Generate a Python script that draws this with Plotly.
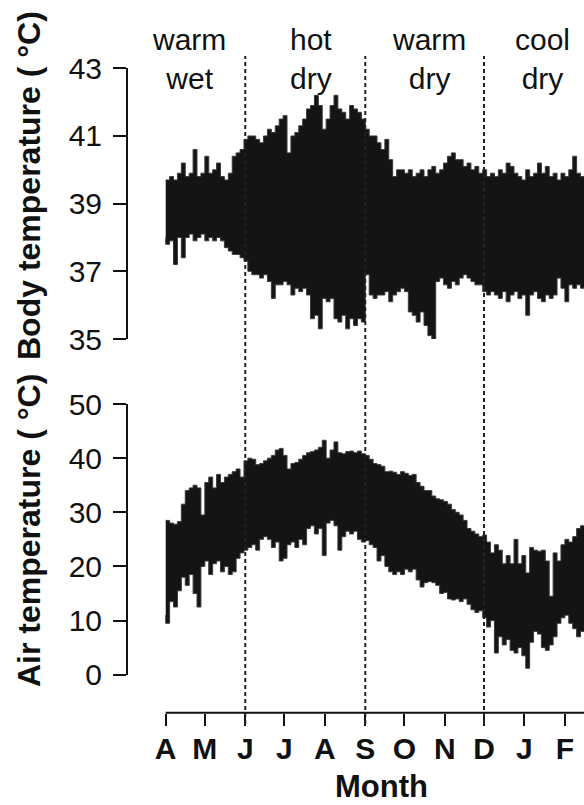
import plotly.graph_objects as go

W, H = 584, 805

# ---------------- data ----------------
# day offset from 1 April, sampled every 3 days
sample_day = list(range(0, 325, 3))

body_upper = [
    39.7, 39.8, 39.7, 39.9, 40.2, 39.8, 39.9, 40.6, 39.8, 39.9,
    40.4, 39.9, 40.0, 40.2, 39.8, 39.7, 39.9, 40.4, 40.5, 40.6,
    40.9, 41.0, 41.0, 40.9, 40.8, 41.0, 41.2, 41.1, 41.3, 41.5,
    41.6, 40.5, 41.0, 41.1, 41.3, 41.5, 41.8, 41.9, 42.2, 41.9,
    41.2, 41.5, 41.9, 42.2, 41.8, 41.7, 41.5, 41.9, 41.8, 41.7,
    41.5, 41.2, 41.0, 41.0, 40.8, 40.6, 40.9, 40.3, 39.8, 40.0,
    40.0, 39.9, 40.0, 39.8, 39.9, 40.0, 39.8, 40.0, 40.1, 39.9,
    40.0, 40.2, 40.4, 40.5, 40.3, 40.3, 40.1, 40.2, 40.0, 40.1,
    39.9, 40.0, 39.8, 39.9, 39.8, 40.0, 39.9, 40.2, 40.1, 39.9,
    39.8, 39.7, 40.0, 39.8, 39.9, 40.2, 39.9, 40.1, 39.8, 39.9,
    39.7, 39.9, 39.8, 40.0, 40.4, 39.9, 39.8, 39.9, 39.8,
]
body_lower = [
    38.0, 37.8, 37.9, 37.2, 38.0, 37.4, 38.0, 38.1, 37.9, 38.0,
    38.1, 37.9, 38.0, 37.9, 38.0, 37.9, 37.7, 37.6, 37.5, 37.5,
    37.4, 37.3, 37.0, 36.9, 36.9, 36.8, 36.9, 36.7, 36.2, 36.6,
    36.6, 36.7, 36.6, 36.3, 36.5, 36.4, 36.5, 36.3, 35.6, 35.7,
    35.3, 36.2, 36.1, 36.2, 35.6, 35.5, 35.7, 35.3, 35.6, 35.4,
    35.6, 35.5, 36.9, 36.3, 36.2, 36.3, 36.3, 36.4, 36.1, 36.3,
    36.4, 36.5, 36.4, 35.8, 35.7, 35.5, 35.8, 35.4, 35.1, 35.0,
    36.7, 36.8, 36.6, 36.5, 36.7, 36.6, 36.8, 36.9, 36.8, 36.7,
    36.6, 36.6, 36.4, 36.3, 36.4, 36.3, 36.2, 36.4, 36.1, 36.3,
    36.4, 36.2, 36.3, 35.7, 36.3, 36.4, 36.2, 36.1, 36.3, 36.2,
    36.3, 36.8, 36.5, 36.1, 36.6, 36.5, 36.6, 36.5, 36.5,
]
air_upper = [
    28.5, 28.0, 27.8, 28.3, 31.5, 34.0, 34.5, 35.0, 34.5, 29.5,
    35.5, 36.5, 34.5, 37.0, 35.5, 36.5, 37.0, 37.5, 38.0, 36.5,
    39.5, 40.0, 39.8, 38.8, 39.0, 39.5, 40.0, 40.5, 41.5, 41.8,
    40.5, 38.0, 39.0, 39.2, 39.8, 40.5, 41.0, 41.2, 41.5, 42.0,
    43.3, 40.0, 41.5, 43.0, 41.0, 40.8, 41.2, 41.3, 41.0, 41.3,
    40.8, 40.5, 39.8, 39.0, 38.8, 38.5, 37.5, 37.6, 37.4, 37.0,
    37.5, 37.2, 36.8, 37.0, 35.5, 34.8, 34.0, 34.0, 33.0, 32.5,
    32.3, 32.0, 31.5, 30.5, 30.0, 29.5, 28.5, 27.0, 26.5, 26.0,
    25.5, 25.8, 24.5, 22.5, 24.0, 23.0, 20.5, 22.0, 20.5, 25.0,
    20.5, 22.0, 18.8, 23.5, 23.0, 22.8, 23.0, 21.0, 14.5, 22.5,
    21.0, 24.0, 25.0, 24.5, 25.5, 27.0, 27.5, 27.8, 28.0,
]
air_lower = [
    11.0, 9.5, 13.5, 12.5, 15.5, 18.0, 16.5, 18.5, 15.0, 12.5,
    20.0, 21.0, 18.5, 20.5, 21.0, 19.0, 20.0, 18.5, 19.0, 21.5,
    22.5, 23.0, 23.5, 24.0, 23.0, 25.0, 25.5, 25.0, 23.5, 24.5,
    21.0, 21.5, 24.0, 24.5, 23.5, 25.0, 24.0, 27.0, 27.5, 26.0,
    27.0, 22.0, 28.0, 28.5, 27.5, 23.0, 25.5, 26.5, 26.0, 26.5,
    25.0, 24.5, 24.8, 24.0, 23.5, 21.0, 22.0, 20.0, 19.0, 18.5,
    19.0, 18.5, 19.5, 19.0, 19.5, 17.5, 16.2, 17.0, 17.2, 17.0,
    16.5, 15.0, 15.2, 14.0, 13.8, 14.0, 13.5, 14.0, 13.0, 12.0,
    11.5, 11.8, 10.5, 8.8, 10.0, 4.0, 7.0, 5.5, 6.5, 4.5,
    4.0, 5.0, 3.5, 1.2, 6.0, 8.0, 7.5, 5.0, 4.5, 5.5,
    7.0, 9.5, 10.5, 11.0, 9.5, 8.5, 7.0, 8.0, 9.0,
]

month_start_day = [0, 30, 61, 91, 122, 153, 183, 214, 244, 275, 306]
month_label = ["A", "M", "J", "J", "A", "S", "O", "N", "D", "J", "F"]
season_boundary_day = [61, 153, 244]
season_label = ["warm<br>wet", "hot<br>dry", "warm<br>dry", "cool<br>dry"]
body_ticks = [35, 37, 39, 41, 43]
air_ticks = [0, 10, 20, 30, 40, 50]

# ---------------- layout helpers ----------------
def px_x(p):
    return p / W

def px_y(p):
    return 1 - p / H

FONT = "Liberation Sans, Arial, Helvetica, sans-serif"
INK = "#111111"

fig = go.Figure()

fig.add_trace(go.Scatter(
    x=sample_day + sample_day[::-1],
    y=body_upper + body_lower[::-1],
    fill="toself", fillcolor="#141414", mode="lines",
    line=dict(color="#3a3a3a", width=1, shape="hv"),
    xaxis="x", yaxis="y", hoverinfo="skip", showlegend=False,
))
fig.add_trace(go.Scatter(
    x=sample_day + sample_day[::-1],
    y=air_upper + air_lower[::-1],
    fill="toself", fillcolor="#141414", mode="lines",
    line=dict(color="#3a3a3a", width=1, shape="hv"),
    xaxis="x", yaxis="y2", hoverinfo="skip", showlegend=False,
))

shapes = []
# x-axis line (R style: from first tick onward)
shapes.append(dict(type="line", xref="x", yref="paper",
                   x0=month_start_day[0], x1=340, y0=px_y(712.7), y1=px_y(712.7),
                   line=dict(color=INK, width=2)))
for d in season_boundary_day:
    shapes.append(dict(type="line", xref="x", yref="paper",
                       x0=d, x1=d, y0=px_y(724), y1=px_y(56),
                       line=dict(color="#222222", width=2, dash="4px,3px"),
                       layer="above"))

annotations = []
season_px = [188.5, 310.5, 428.5, 542]
for lbl, xp in zip(season_label, season_px):
    annotations.append(dict(text=lbl, x=px_x(xp), y=px_y(59), xref="paper", yref="paper",
                            xanchor="center", yanchor="middle", showarrow=False,
                            font=dict(family=FONT, size=30, color=INK)))
annotations.append(dict(text="Body temperature ( °C)", textangle=-90,
                        x=px_x(29), y=px_y(186), xref="paper", yref="paper",
                        xanchor="center", yanchor="middle", showarrow=False,
                        font=dict(family=FONT, size=32, color=INK, weight="bold")))
annotations.append(dict(text="Air temperature ( °C)", textangle=-90,
                        x=px_x(29), y=px_y(531), xref="paper", yref="paper",
                        xanchor="center", yanchor="middle", showarrow=False,
                        font=dict(family=FONT, size=32, color=INK, weight="bold")))
annotations.append(dict(text="Month", x=px_x(381), y=px_y(786), xref="paper", yref="paper",
                        xanchor="center", yanchor="middle", showarrow=False,
                        font=dict(family=FONT, size=31, color=INK, weight="bold")))

day_left = (128 - 165.7) / 1.3045
day_right = (584 - 165.7) / 1.3045

fig.update_layout(
    width=W, height=H, autosize=False,
    margin=dict(l=0, r=0, t=0, b=0, autoexpand=False),
    paper_bgcolor="white", plot_bgcolor="white",
    showlegend=False,
    shapes=shapes, annotations=annotations,
    xaxis=dict(domain=[px_x(128), 1], range=[day_left, day_right],
               anchor="free", position=px_y(712.7),
               tickmode="array", tickvals=month_start_day, ticktext=month_label,
               ticks="outside", ticklen=12, tickwidth=2, tickcolor=INK,
               showline=False, showgrid=False, zeroline=False,
               ticklabelstandoff=-3, automargin=False,
               tickfont=dict(family=FONT, size=30, color=INK, weight="bold")),
    yaxis=dict(domain=[px_y(339), px_y(68.3)], range=[35, 43], anchor="x",
               tickmode="array", tickvals=body_ticks,
               ticks="outside", ticklen=13, tickwidth=2, tickcolor=INK,
               showline=True, linewidth=2, linecolor=INK, automargin=False,
               showgrid=False, zeroline=False, ticklabelstandoff=5,
               tickfont=dict(family=FONT, size=30, color=INK)),
    yaxis2=dict(domain=[px_y(674.7), px_y(404)], range=[0, 50], anchor="x",
                tickmode="array", tickvals=air_ticks,
                ticks="outside", ticklen=13, tickwidth=2, tickcolor=INK,
                showline=True, linewidth=2, linecolor=INK, automargin=False,
                showgrid=False, zeroline=False, ticklabelstandoff=5,
                tickfont=dict(family=FONT, size=30, color=INK)),
)

fig.write_html("out.html")
